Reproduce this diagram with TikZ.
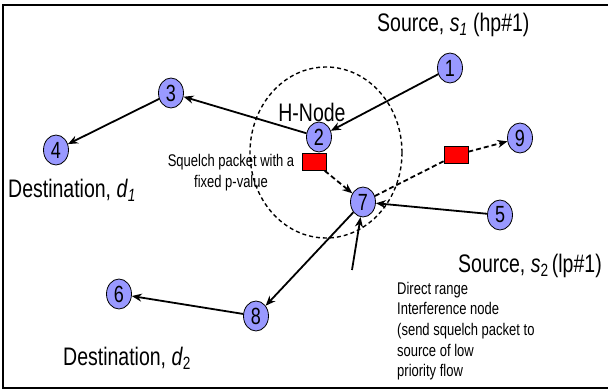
\documentclass[tikz,border=0pt]{standalone}
\usepackage{graphicx}
\usepackage{fontspec}
\setmainfont{Liberation Sans}
\usetikzlibrary{arrows.meta,shapes.geometric}
\definecolor{nodefill}{HTML}{9999FF}
\newcommand{\tallt}[1]{\scalebox{1}[1.3]{#1}}
\tikzset{
  nd/.style={ellipse,draw=black,line width=0.8pt,fill=nodefill,minimum width=25pt,minimum height=30pt,inner sep=0pt,font=\fontsize{18}{18}\selectfont},
  link/.style={line width=1.8pt,-{Stealth[length=10pt,width=8pt]}},
  dlink/.style={line width=1.8pt,dash pattern=on 5pt off 3pt,-{Stealth[length=10pt,width=8pt]}},
  pkt/.style={rectangle,draw=black,line width=0.6pt,fill=red,minimum width=24pt,minimum height=17pt,inner sep=0pt},
  big/.style={font=\fontsize{19.5}{20}\selectfont,inner sep=0pt},
  small/.style={font=\fontsize{13}{15.9}\selectfont,inner sep=0pt}
}
\begin{document}
\begin{tikzpicture}[x=1pt,y=-1pt]
\useasboundingbox (0,0) rectangle (608,390);
\draw[line width=2.2pt] (610,5) -- (3,5) -- (3,388) -- (610,388);
\draw[line width=1.4pt,dash pattern=on 4pt off 3pt] (326,152.5) ellipse[x radius=76,y radius=85.5];
\node[nd] (n1) at (450,68) {\tallt{1}};
\node[nd] (n2) at (319,137) {\tallt{2}};
\node[nd] (n3) at (171,93) {\tallt{3}};
\node[nd] (n4) at (56,150) {\tallt{4}};
\node[nd] (n5) at (500,215) {\tallt{5}};
\node[nd] (n6) at (119,294) {\tallt{6}};
\node[nd] (n7) at (363,202) {\tallt{7}};
\node[nd] (n8) at (256,316) {\tallt{8}};
\node[nd] (n9) at (520,138) {\tallt{9}};
\node[pkt] (p1) at (314,162) {};
\node[pkt] (p2) at (456,155) {};
\node[big] (hnode) at (312,112) {\tallt{H-Node}};
\node[big,anchor=west] (s1) at (377,25) {\tallt{Source, \textit{s}\textsubscript{\textit{1}} (hp\#1)}};
\node[big,anchor=west] (d1) at (8,190) {\tallt{Destination, \textit{d}\textsubscript{\textit{1}}}};
\node[big,anchor=west] (d2) at (63,358) {\tallt{Destination, \textit{d}\textsubscript{2}}};
\node[big,anchor=west] (s2) at (458,266) {\tallt{Source, \textit{s}\textsubscript{2}\,(lp\#1)}};
\node[small] (sq) at (231,173) {\tallt{\begin{tabular}{@{}c@{}}Squelch packet with a\\fixed p-value\end{tabular}}};
\node[small,anchor=west] (dr) at (397,331.5) {\tallt{\begin{tabular}{@{}l@{}}Direct range\\Interference node\\(send squelch packet to\\source of low\\priority flow\end{tabular}}};
\coordinate (drt) at (352,270);
\draw[link] (n1) -- (n2);
\draw[link] (n2) -- (n3);
\draw[link] (n3) -- (n4);
\draw[link] (n7) -- (n8);
\draw[link] (n8) -- (n6);
\draw[link] (n5) -- (n7);
\draw[link] (drt) -- (n7);
\draw[dlink] (p1) -- (n7);
\draw[line width=1.8pt,dash pattern=on 5pt off 3pt] (n7) -- (p2);
\draw[dlink] (p2) -- (n9);
\end{tikzpicture}
\end{document}
